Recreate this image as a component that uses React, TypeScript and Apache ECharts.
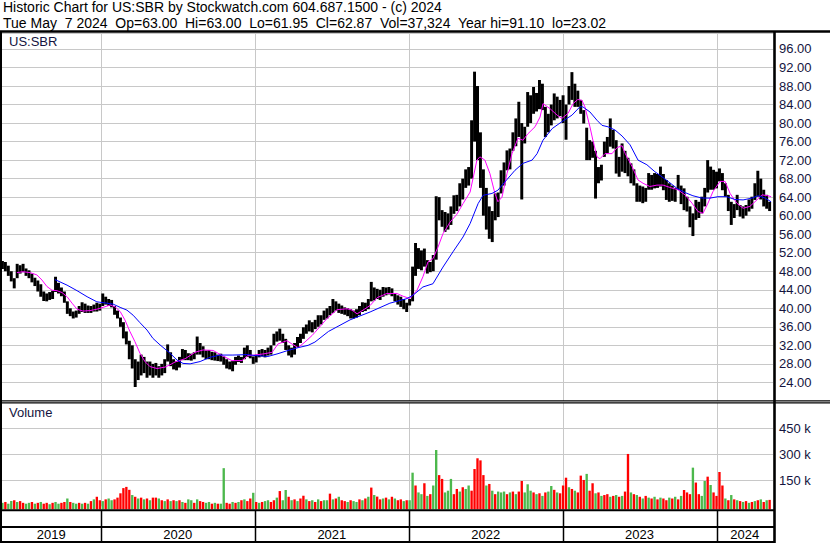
import React, { useEffect, useRef } from 'react';
import * as echarts from 'echarts';

// ---------- texts ----------
const FONT = '"Liberation Sans", Arial, Helvetica, sans-serif';
const NB = '\u00A0';
const TITLE_1 = 'Historic Chart for US:SBR by Stockwatch.com 604.687.1500 - (c) 2024';
const TITLE_2 = `Tue May${NB} 7 2024${NB} Op=63.00${NB} Hi=63.00${NB} Lo=61.95${NB} Cl=62.87${NB} Vol=37,324${NB} Year hi=91.10${NB} lo=23.02`;
const SYMBOL_LABEL = 'US:SBR';
const VOLUME_LABEL = 'Volume';

// ---------- axes ----------
const DAY = 86400000;
const FIRST_WEEK = Date.UTC(2019, 4, 13);
const AXIS_START = Date.UTC(2019, 4, 12);
const AXIS_END = Date.UTC(2024, 4, 14);
const YEARS = [2019, 2020, 2021, 2022, 2023, 2024];
const PRICE_MIN = 20;
const PRICE_MAX = 99.45;
const PRICE_STEP = 4;
const PRICE_LABEL_FIRST = 24;
const PRICE_LABEL_LAST = 96;
const VOL_MAX = 596000;
const VOL_STEP = 150000;

// ---------- weekly price range (one entry per week from 2019-05-13) ----------
const weekHigh = [
  50.2, 50.0, 49.2, 48.0, 46.5, 49.6, 49.3, 49.6, 48.6, 48.2,
  47.5, 46.6, 46.0, 45.2, 43.6, 43.2, 43.5, 43.8, 46.8, 45.5,
  44.5, 43.6, 41.5, 40.0, 39.3, 39.5, 40.5, 41.3, 41.0, 40.6,
  40.5, 40.8, 41.2, 41.0, 43.2, 42.5, 42.0, 41.8, 40.5, 39.5,
  38.0, 37.0, 35.0, 33.0, 32.0, 29.0, 28.5, 30.0, 29.5, 28.5,
  28.5, 28.0, 28.2, 27.5, 28.0, 29.0, 32.2, 30.5, 29.0, 28.5,
  29.5, 31.2, 31.0, 30.3, 30.2, 30.5, 33.9, 32.5, 31.8, 30.9,
  31.0, 30.6, 30.5, 30.0, 30.2, 29.6, 29.0, 28.5, 28.6, 29.5,
  29.8, 29.5, 31.5, 32.0, 31.0, 29.6, 30.0, 31.0, 31.2, 31.0,
  31.5, 32.0, 34.5, 35.0, 35.6, 34.5, 33.4, 32.0, 31.5, 32.5,
  33.8, 34.5, 35.9, 36.5, 37.4, 37.0, 37.5, 38.5, 38.5, 39.5,
  40.0, 40.5, 42.0, 41.5, 41.0, 40.6, 40.2, 40.0, 39.8, 39.5,
  39.8, 40.5, 41.3, 41.2, 42.0, 45.7, 44.5, 44.2, 44.0, 44.6,
  44.5, 44.6, 44.3, 43.2, 42.8, 42.5, 42.0, 41.2, 42.0, 49.0,
  54.1, 53.0, 52.5, 52.9, 50.4, 50.0, 51.5, 64.2, 64.0, 61.2,
  60.8, 60.5, 62.0, 64.4, 64.5, 67.0, 68.0, 70.0, 70.5, 80.6,
  91.1, 88.0, 78.0, 70.0, 66.0, 62.0, 61.0, 64.8, 65.0, 69.8,
  71.5, 74.1, 74.5, 78.0, 81.0, 84.6, 80.0, 79.2, 86.7, 86.0,
  87.8, 86.5, 89.3, 88.5, 83.5, 82.0, 84.0, 86.4, 85.7, 85.0,
  86.0, 84.0, 88.0, 91.0, 88.5, 87.0, 85.0, 82.8, 79.0, 76.3,
  76.0, 74.0, 70.5, 71.0, 76.0, 77.0, 81.0, 78.5, 76.3, 72.7,
  75.6, 74.0, 72.5, 71.3, 70.0, 67.0, 66.5, 66.3, 66.0, 69.2,
  68.8, 69.2, 69.0, 70.6, 69.0, 67.7, 67.0, 66.5, 66.0, 68.8,
  66.5, 65.9, 64.1, 62.0, 60.5, 63.4, 63.0, 64.1, 66.0, 72.0,
  70.6, 69.9, 69.5, 70.2, 69.2, 67.0, 64.5, 63.0, 62.5, 64.5,
  62.3, 62.0, 62.3, 63.5, 64.1, 67.0, 69.7, 68.0, 65.6, 64.5, 63.0,
];
const weekLow = [
  48.5, 48.0, 47.0, 45.8, 44.3, 46.5, 47.5, 47.8, 47.0, 46.5,
  45.6, 44.8, 43.6, 42.5, 41.6, 41.5, 41.8, 42.0, 43.5, 43.2,
  42.6, 41.2, 38.8, 38.3, 37.8, 38.0, 38.8, 39.2, 39.0, 39.0,
  39.0, 39.3, 39.3, 39.5, 40.5, 40.8, 40.5, 40.2, 38.6, 37.8,
  36.0, 33.5, 32.2, 29.0, 27.0, 23.0, 24.5, 25.5, 26.0, 25.0,
  25.5, 25.0, 25.5, 25.0, 25.5, 26.0, 28.5, 27.5, 26.8, 26.6,
  27.2, 28.8, 28.8, 28.8, 28.7, 29.0, 30.0, 30.0, 29.4, 29.0,
  29.0, 28.8, 28.7, 28.6, 28.5, 27.8, 27.0, 26.8, 26.4, 27.8,
  28.4, 28.2, 29.0, 29.5, 29.2, 28.0, 28.3, 29.4, 29.6, 29.4,
  29.8, 30.0, 32.0, 32.8, 33.0, 32.5, 31.0, 29.8, 29.4, 30.0,
  31.6, 32.5, 33.4, 34.5, 35.0, 34.8, 35.5, 36.0, 36.5, 37.5,
  37.8, 38.5, 39.0, 39.5, 39.0, 38.8, 38.6, 38.3, 37.8, 37.8,
  38.0, 38.5, 39.2, 39.4, 39.8, 41.5, 41.7, 42.0, 41.8, 42.5,
  42.8, 43.0, 42.6, 41.5, 40.8, 40.3, 39.8, 39.2, 40.6, 41.5,
  47.0, 48.5, 48.2, 49.0, 47.5, 47.8, 48.0, 50.5, 59.0, 57.6,
  56.5, 57.0, 58.0, 60.4, 61.0, 62.0, 63.5, 66.0, 66.5, 68.0,
  76.0, 72.0, 66.0, 60.0, 57.0, 55.0, 54.3, 59.0, 59.7, 64.8,
  66.5, 69.8, 70.0, 74.0, 75.0, 77.0, 63.5, 75.6, 79.2, 80.0,
  82.0, 82.5, 83.0, 82.8, 77.0, 78.0, 79.5, 80.6, 81.0, 81.5,
  80.0, 76.4, 84.0, 85.0, 83.5, 83.5, 82.0, 79.9, 72.0, 72.0,
  72.5, 63.7, 67.0, 67.6, 72.7, 73.5, 74.9, 74.5, 69.1, 68.4,
  69.5, 69.2, 68.5, 67.0, 66.5, 63.0, 63.0, 62.7, 63.0, 65.6,
  65.6, 65.9, 66.0, 66.3, 65.5, 63.4, 63.0, 63.2, 63.0, 65.6,
  62.5, 61.2, 60.9, 57.5, 55.6, 59.1, 59.5, 60.5, 62.0, 65.0,
  65.6, 65.6, 65.9, 67.4, 65.5, 64.1, 61.0, 58.0, 59.5, 61.2,
  59.8, 59.4, 60.0, 60.9, 61.5, 63.4, 64.1, 63.5, 62.0, 61.5, 61.0,
];

// ---------- weekly volume (thousands) and colour (g = up, r = down) ----------
const weekVolK = [
  20, 25, 15, 30, 35, 25, 30, 20, 15, 20,
  25, 15, 20, 25, 15, 20, 12, 20, 25, 15,
  20, 25, 45, 25, 20, 15, 20, 15, 20, 15,
  30, 40, 55, 35, 30, 40, 45, 35, 40, 50,
  75, 105, 112, 95, 65, 55, 45, 50, 40, 45,
  35, 50, 50, 45, 35, 30, 40, 30, 35, 30,
  35, 25, 20, 40, 35, 20, 40, 30, 25, 20,
  25, 15, 20, 15, 15, 220, 20, 15, 25, 20,
  25, 35, 40, 30, 45, 78, 25, 20, 25, 30,
  35, 25, 35, 50, 88, 35, 94, 55, 35, 40,
  30, 45, 61, 40, 30, 35, 25, 40, 30, 35,
  35, 73, 40, 45, 55, 35, 30, 25, 35, 30,
  25, 40, 35, 45, 55, 108, 65, 56, 40, 45,
  50, 40, 55, 45, 35, 40, 30, 35, 35, 194,
  120, 80, 70, 133, 60, 70, 120, 325, 180, 158,
  80, 90, 158, 70, 100, 85, 110, 100, 120, 90,
  215, 277, 265, 180, 120, 129, 90, 70, 85, 80,
  85, 70, 80, 85, 70, 85, 146, 80, 127, 90,
  80, 70, 75, 60, 80, 85, 117, 95, 80, 75,
  120, 165, 110, 100, 90, 80, 177, 152, 187, 90,
  133, 75, 80, 60, 65, 70, 55, 60, 65, 55,
  60, 85, 302, 80, 70, 65, 55, 45, 60, 50,
  45, 55, 40, 50, 45, 35, 50, 45, 55, 40,
  60, 94, 80, 70, 223, 137, 70, 60, 146, 171,
  123, 80, 60, 198, 120, 45, 35, 65, 40, 35,
  30, 25, 30, 20, 25, 30, 35, 40, 25, 35, 37,
];
const weekColor =
  'grggrgrrgg' + 'rgrgrrgrgg' + 'rrgrggrgrg' + 'rgrrgrggrr' + 'rrrrgrgrgr' +
  'grrgrgrgrg' + 'rgrggrgrrg' + 'grgrggrrgr' + 'grgrrgrgrg' + 'grrgrggrgr' +
  'grrgrgrgrg' + 'grgrgrrgrg' + 'grgrgrgrrg' + 'rgrgrrgrgg' + 'rggrgrggrr' +
  'gggrrgrggr' + 'rrrrgrgrgg' + 'grgrgrrggg' + 'rgrgrggrgr' + 'rrgrgrrrgr' +
  'rgrgrrgrgr' + 'grrgrgrgrg' + 'rgrgrrgrgr' + 'grrrgrrggr' + 'grrrrgrgrg' +
  'rgrgrgrgrgr';

// ---------- moving averages: [week index, value] ----------
const maShort: [number, number][] = [
  [4.9, 47.7], [7, 47.9], [9.4, 47.7], [11.7, 47.2], [13.4, 46.1], [15.1, 44.7], [16.8, 43.9],
  [18.5, 43.8], [20.2, 43.4], [21.9, 42.5], [23.6, 41.1], [25.3, 39.8], [27.3, 39.4], [29.7, 39.5],
  [32, 39.8], [34.1, 40.2], [36.5, 40.7], [38.2, 40.3], [39.9, 39.3], [41.5, 37.5], [43.2, 35],
  [44.9, 32.8], [46.6, 30.3], [48.3, 28.5], [50, 27.4], [52.4, 27], [55.1, 27.3], [56.8, 27.8],
  [58.5, 28.4], [61.9, 29.1], [65.3, 30.5], [68, 31], [71.4, 30.9], [74.4, 29.8], [77.8, 28.7],
  [81.2, 28.7], [83.2, 29.8], [85.6, 29.9], [89, 30.2], [91.4, 30.5], [93.4, 32.3], [96.4, 33],
  [98.1, 32.3], [100.2, 31.5], [102.5, 32.7], [104.9, 34.1], [105.9, 34.8], [110, 37.8],
  [113.4, 39.7], [116.8, 39.9], [118.5, 39.6], [120.2, 38.8], [122.2, 39.6], [124.6, 40.6],
  [127, 42.3], [130.3, 43.2], [133.7, 43.2], [135.8, 42.6], [138.1, 42.1], [140.5, 43.9],
  [142.5, 46.8], [144.2, 50], [145.9, 50.7], [147.6, 53.2], [149.3, 56.1], [151.7, 58.6],
  [154, 60.3], [156.1, 62.6], [158.5, 65.1], [160.8, 72], [161.8, 72.7], [163.5, 72],
  [165.2, 69.1], [166.9, 64.8], [167.9, 63], [169.3, 64], [171, 69.1], [172.7, 73.4],
  [174.7, 76.7], [176.4, 76.3], [178.1, 77.7], [180.5, 79.2], [182.2, 81.3], [183.2, 84.2],
  [185.6, 83.1], [188, 81.7], [189.6, 81], [191.7, 82.1], [193.4, 84.2], [195, 85.1],
  [196.4, 84.9], [197.4, 83.5], [199.1, 79.2], [200.1, 76.3], [201.5, 72.7], [202.5, 72.3],
  [204.2, 73.4], [206.6, 73.4], [208.3, 74.7], [210, 75.1], [211, 73.5], [213.4, 70.6],
  [215.4, 67.7], [217.1, 67], [219.4, 66.3], [221.8, 66.6], [223.9, 66.6], [226.2, 66.1],
  [228.9, 65.6], [231.3, 64.5], [233.7, 62.7], [235.7, 60.9], [237.4, 60.5], [239.1, 62.7],
  [240.8, 65.2], [243.2, 67.4], [244.9, 67.4], [246.6, 64.8], [248.9, 62.7], [251, 61.6],
  [253.3, 62], [255.7, 63.4], [257.4, 64.5], [259.4, 64.3], [260.5, 64.1],
];
const maLong: [number, number][] = [
  [17.8, 46.2], [21.9, 45], [25.3, 43.8], [28.7, 42.5], [32, 41.4], [35.4, 41.1], [37.5, 40.9],
  [39.9, 40.2], [42.2, 39.6], [44.3, 38.5], [46.6, 36.9], [49, 35.3], [51, 33.5], [53.4, 32.1],
  [56.8, 30.3], [59.2, 28.8], [61.2, 28.1], [63.6, 28], [67, 28.5], [70.3, 29.4], [73.7, 29.9],
  [78.1, 29.9], [82.9, 30], [85.6, 29.8], [90, 29.6], [93.4, 30.2], [96.8, 30.9], [100.2, 31.5],
  [103.6, 32], [105.9, 32.7], [110.5, 35], [117.8, 37.5], [124.6, 39.2], [131.3, 41.1],
  [137.1, 42.1], [139.1, 42.8], [142.5, 44.6], [145.9, 45.3], [149.3, 48.9], [152.7, 52.2],
  [156.1, 55.4], [158.5, 58.3], [161.2, 62.6], [162.9, 64.4], [165.9, 64.8], [167.9, 65.5],
  [170.3, 67.3], [173.7, 69.8], [176.4, 71.3], [179.5, 72], [181.2, 73.4], [183.2, 76.3],
  [186.3, 78.8], [189.6, 80.3], [193, 81.7], [195.7, 83.5], [196.7, 83.5], [199.1, 82.4],
  [201.5, 80.6], [203.2, 79.5], [205.2, 79.2], [207.6, 78.5], [210, 77.2], [212.7, 75.3],
  [215.4, 72], [218.4, 71], [221.1, 69.5], [223.5, 68.4], [225.6, 67.4], [228.6, 65.9],
  [231.3, 65], [234, 64.3], [237.1, 63.8], [239.8, 63.8], [242.5, 64.1], [245.5, 64.1],
  [248.2, 63.5], [251, 63.4], [254, 63.8], [256.1, 64.3], [258.5, 63.8], [260.5, 63],
];

const weekTime = (i: number) => FIRST_WEEK + i * 7 * DAY;

const LABEL_COLOR = '#141440';
const GRID_COLOR = '#c8c8c8';
const UP_COLOR = '#4cb84c';
const DOWN_COLOR = '#ff0000';

function yearLineSeries(axis: number) {
  return {
    type: 'custom',
    xAxisIndex: axis,
    yAxisIndex: axis,
    z: 1,
    silent: true,
    clip: false,
    encode: { x: 0, y: 1 },
    data: YEARS.slice(1).map((y) => [Date.UTC(y, 0, 1), 0]),
    renderItem: (params: any, api: any) => {
      const cs = params.coordSys;
      const x = Math.round(api.coord([api.value(0), 0])[0]) + 0.5;
      return {
        type: 'line',
        shape: { x1: x, y1: cs.y, x2: x, y2: cs.y + cs.height },
        style: { stroke: GRID_COLOR, lineWidth: 1 },
      };
    },
  };
}

function buildOption() {
  const priceData = weekHigh.map((h, i) => [weekTime(i), h, weekLow[i]]);
  const volData = weekVolK.map((v, i) => [weekTime(i), v * 1000, weekColor[i] === 'g' ? 1 : 0]);
  const yearSegments = YEARS.map((y) => [
    Math.max(AXIS_START, Date.UTC(y, 0, 1)),
    Math.min(AXIS_END, Date.UTC(y + 1, 0, 1)),
    y,
  ]);

  const frame = (x1: number, y1: number, x2: number, y2: number, w: number) => ({
    type: 'line',
    z: 100,
    silent: true,
    shape: { x1, y1, x2, y2 },
    style: { stroke: '#000', lineWidth: w },
  });

  const textBase = { fontFamily: FONT, fontSize: 13, fontWeight: 'normal' as const };
  const headBase = { fontFamily: FONT, fontSize: 14, fontWeight: 'normal' as const, color: '#000', lineHeight: 14 };

  return {
    animation: false,
    backgroundColor: '#ffffff',
    title: [
      { text: TITLE_1, left: 3, top: 0, padding: 0, textStyle: headBase },
      { text: TITLE_2, left: 3, top: 16, padding: 0, textStyle: headBase },
      { text: SYMBOL_LABEL, left: 9, top: 35, padding: 0, textStyle: { ...textBase, color: LABEL_COLOR } },
      { text: VOLUME_LABEL, left: 9, top: 406, padding: 0, textStyle: { ...textBase, color: LABEL_COLOR } },
    ],
    grid: [
      { left: 2, right: 57, top: 33, bottom: 142.1 },
      { left: 2, right: 57, top: 403, bottom: 36.7 },
      { left: 2, right: 57, top: 511, bottom: 2 },
    ],
    xAxis: [0, 1, 2].map((g) => ({
      type: 'time',
      gridIndex: g,
      min: AXIS_START,
      max: AXIS_END,
      show: false,
    })),
    yAxis: [
      {
        type: 'value',
        gridIndex: 0,
        position: 'right',
        min: PRICE_MIN,
        max: PRICE_MAX,
        interval: PRICE_STEP,
        axisLine: { show: false },
        axisTick: { show: false },
        axisLabel: {
          margin: 6,
          color: LABEL_COLOR,
          fontFamily: FONT,
          fontSize: 13,
          padding: [0, 0, 3, 0],
          formatter: (v: number) => (v >= PRICE_LABEL_FIRST && v <= PRICE_LABEL_LAST ? v.toFixed(2) : ''),
        },
        splitLine: { show: true, showMinLine: false, lineStyle: { color: GRID_COLOR, width: 1 } },
      },
      {
        type: 'value',
        gridIndex: 1,
        position: 'right',
        min: 0,
        max: VOL_MAX,
        interval: VOL_STEP,
        axisLine: { show: false },
        axisTick: { show: false },
        axisLabel: {
          margin: 6,
          color: LABEL_COLOR,
          fontFamily: FONT,
          fontSize: 13,
          showMaxLabel: false,
          formatter: (v: number) => (v > 0 && v % VOL_STEP === 0 ? `${v / 1000} k` : ''),
        },
        splitLine: { show: true, showMinLine: false, showMaxLine: false, lineStyle: { color: GRID_COLOR, width: 1 } },
      },
      { type: 'value', gridIndex: 2, min: 0, max: 1, show: false },
    ],
    series: [
      yearLineSeries(0),
      yearLineSeries(1),
      {
        type: 'custom',
        name: 'Price',
        xAxisIndex: 0,
        yAxisIndex: 0,
        z: 2,
        clip: false,
        encode: { x: 0, y: [1, 2] },
        data: priceData,
        renderItem: (params: any, api: any) => {
          const t = api.value(0);
          const a = api.coord([t, api.value(1)]);
          const b = api.coord([t, api.value(2)]);
          const w = api.coord([t + 7 * DAY, api.value(1)])[0] - a[0];
          return {
            type: 'rect',
            shape: { x: a[0] - w / 2, y: a[1], width: w, height: Math.max(1, b[1] - a[1]) },
            style: { fill: '#000' },
          };
        },
      },
      {
        type: 'line',
        name: 'MA short',
        xAxisIndex: 0,
        yAxisIndex: 0,
        z: 4,
        showSymbol: false,
        silent: true,
        data: maShort.map(([i, v]) => [weekTime(i), v]),
        lineStyle: { color: '#ff00ff', width: 1 },
      },
      {
        type: 'line',
        name: 'MA long',
        xAxisIndex: 0,
        yAxisIndex: 0,
        z: 4,
        showSymbol: false,
        silent: true,
        data: maLong.map(([i, v]) => [weekTime(i), v]),
        lineStyle: { color: '#0000ff', width: 1 },
      },
      {
        type: 'custom',
        name: 'Volume',
        xAxisIndex: 1,
        yAxisIndex: 1,
        z: 2,
        clip: false,
        encode: { x: 0, y: 1 },
        data: volData,
        renderItem: (params: any, api: any) => {
          const t = api.value(0);
          const a = api.coord([t, api.value(1)]);
          const b = api.coord([t, 0]);
          const w = api.coord([t + 7 * DAY, 0])[0] - b[0];
          return {
            type: 'rect',
            shape: { x: a[0] - w * 0.4, y: a[1], width: w * 0.8, height: b[1] - a[1] + 3 },
            style: { fill: api.value(2) ? UP_COLOR : DOWN_COLOR },
          };
        },
      },
      {
        type: 'custom',
        name: 'Years',
        xAxisIndex: 2,
        yAxisIndex: 2,
        z: 5,
        clip: false,
        silent: true,
        encode: { x: 0 },
        data: yearSegments,
        renderItem: (params: any, api: any) => {
          const cs = params.coordSys;
          const x1 = api.coord([api.value(0), 0])[0];
          const x2 = api.coord([api.value(1), 0])[0];
          const children: any[] = [
            {
              type: 'text',
              style: {
                text: String(api.value(2)),
                x: (x1 + x2) / 2,
                y: cs.y + 23,
                align: 'center',
                verticalAlign: 'middle',
                fontFamily: FONT,
                fontSize: 13,
                fill: '#000',
              },
            },
          ];
          if (x1 > cs.x + 2) {
            const xl = Math.round(x1) + 0.5;
            children.push({
              type: 'line',
              shape: { x1: xl, y1: cs.y, x2: xl, y2: cs.y + cs.height },
              style: { stroke: '#000', lineWidth: 1.5 },
            });
          }
          return { type: 'group', children };
        },
      },
    ],
    graphic: [
      frame(0, 31.5, 830, 31.5, 2.4),
      frame(1, 31, 1, 543, 2),
      frame(774.5, 31, 774.5, 543, 2.6),
      frame(0, 400.8, 830, 400.8, 1.2),
      frame(0, 402.8, 830, 402.8, 1.2),
      frame(0, 510.2, 775, 510.2, 2),
      frame(0, 527, 775, 527, 2),
      frame(0, 542, 775, 542, 2),
    ],
  };
}

export default function App() {
  const ref = useRef<HTMLDivElement>(null);
  useEffect(() => {
    if (!ref.current) return;
    const chart = echarts.init(ref.current, undefined, { renderer: 'svg' });
    chart.setOption(buildOption() as any);
    return () => chart.dispose();
  }, []);
  return (
    <div
      ref={ref}
      style={{ position: 'fixed', left: 0, top: 0, width: 830, height: 543, background: '#fff' }}
    />
  );
}
